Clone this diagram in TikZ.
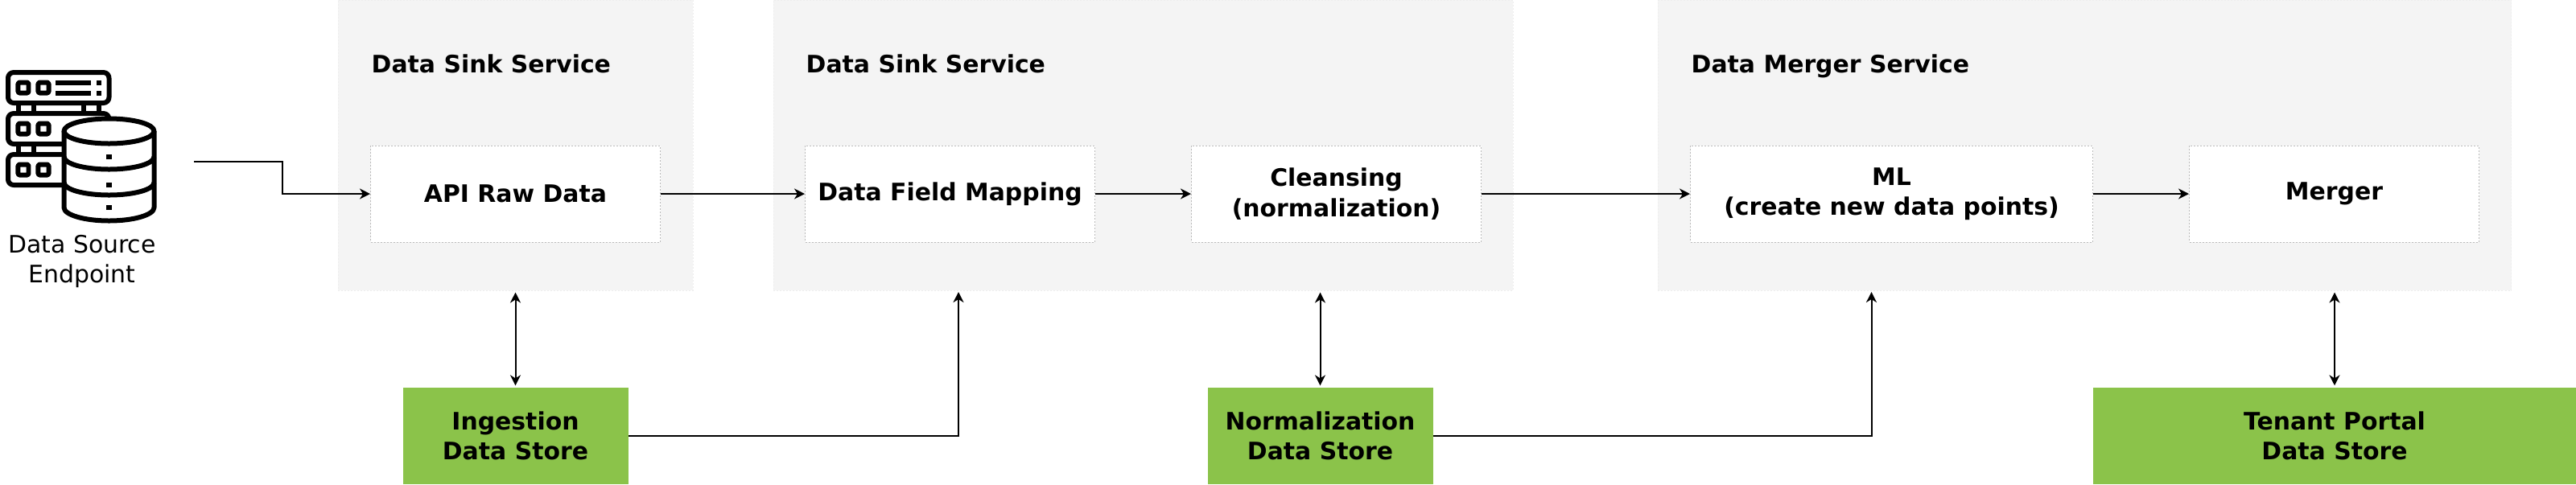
\documentclass[tikz,border=0pt]{standalone}
\usepackage{fontspec}
\setmainfont{DejaVu Sans}
\usepackage{xcolor}
\usetikzlibrary{arrows.meta, positioning, calc}
\definecolor{dfpanel}{HTML}{F4F4F4}
\definecolor{dfpanelline}{HTML}{EEEEEE}
\definecolor{dfline}{HTML}{BBBBBB}
\definecolor{dfgreen}{HTML}{8BC34A}

\begin{document}
\begin{tikzpicture}[
  lbl/.style={font=\fontsize{8.5}{10.6}\selectfont, align=center, inner sep=0pt},
  panelcell/.style={draw=dfpanelline, line width=0.01cm, dash pattern=on 0.02cm off 0.02cm, fill=dfpanel, minimum height=3.61cm},
  stepcell/.style={lbl, font=\fontsize{8.5}{10.6}\selectfont\bfseries, draw=dfline, line width=0.01cm, dash pattern=on 0.02cm off 0.02cm, fill=white, minimum height=1.2cm},
  storecell/.style={lbl, font=\fontsize{8.5}{10.6}\selectfont\bfseries, fill=dfgreen, minimum height=1.2cm},
  titlecell/.style={lbl, font=\fontsize{8.5}{10.6}\selectfont\bfseries, anchor=west, text height=0.22cm, text depth=0.06cm},
  flow/.style={line width=0.02cm, -{Stealth[length=0.13cm, width=0.13cm, inset=0.04cm]}},
  both/.style={flow, {Stealth[length=0.13cm, width=0.13cm, inset=0.04cm]}-{Stealth[length=0.13cm, width=0.13cm, inset=0.04cm]}, shorten <=0.02cm, shorten >=0.02cm},
  icon/.style={line width=0.06cm, line join=round},
]
  \useasboundingbox (0,0) rectangle (32.01,-6.02);

  % Panels
  \node[panelcell, minimum width=4.41cm] (sinkA) at (6.405,-1.805) {};
  \node[panelcell, minimum width=9.19cm] (sinkB) at (14.205,-1.805) {};
  \node[panelcell, minimum width=10.605cm] (merge) at (25.905,-1.805) {};

  % Titles
  \node[titlecell] (sinkAtitle) at (4.61,-0.825) {Data Sink Service};
  \node[titlecell] (sinkBtitle) at (10.01,-0.825) {Data Sink Service};
  \node[titlecell] (mergetitle) at (21.01,-0.825) {Data Merger Service};

  % Steps
  \node[stepcell, minimum width=3.6cm] (raw) at (6.405,-2.41) {API Raw Data};
  \node[stepcell, minimum width=3.6cm] (mapping) at (11.805,-2.41) {Data Field Mapping};
  \node[stepcell, minimum width=3.6cm] (cleansing) at (16.605,-2.41) {Cleansing\\(normalization)};
  \node[stepcell, minimum width=5cm] (ml) at (23.505,-2.41) {ML\\(create new data points)};
  \node[stepcell, minimum width=3.6cm] (merger) at (29.005,-2.41) {Merger};

  % Stores
  \node[storecell, minimum width=2.8cm] (ingest) at (6.405,-5.42) {Ingestion\\Data Store};
  \node[storecell, minimum width=2.8cm] (norm) at (16.405,-5.42) {Normalization\\Data Store};
  \node[storecell, minimum width=6cm] (tenant) at (29.01,-5.42) {Tenant Portal\\Data Store};

  % Source icon, servers
  \foreach \y in {1.09,1.60,2.11} {
    \draw[icon, rounded corners=0.07cm] (0.10,-\y+0.19) rectangle (1.355,-\y-0.19);
    \foreach \x in {0.29,0.54}
      \draw[icon, rounded corners=0.015cm, fill=white] (\x-0.065,-\y+0.065) rectangle (\x+0.065,-\y-0.065);
  }
  \foreach \x in {0.23,0.42,1.04,1.23}
    \draw[icon] (\x,-1.30) -- (\x,-1.40);
  \foreach \x in {0.23,0.42}
    \draw[icon] (\x,-1.81) -- (\x,-1.91);
  \foreach \y in {1.03,1.16} {
    \draw[line width=0.06cm] (0.69,-\y) -- (1.13,-\y);
    \fill (1.20,-\y+0.03) rectangle (1.26,-\y-0.03);
  }

  % Source icon, database
  \draw[icon, fill=white] (0.795,-1.63) -- (0.795,-2.58) arc[start angle=180, end angle=360, x radius=0.56, y radius=0.165] -- (1.915,-1.63);
  \draw[icon, fill=white] (1.355,-1.63) ellipse[x radius=0.56, y radius=0.155];
  \foreach \y in {1.95,2.27}
    \draw[icon] (0.795,-\y) arc[start angle=180, end angle=360, x radius=0.56, y radius=0.155];
  \foreach \y in {1.95,2.30,2.58}
    \fill (1.32,-\y+0.03) rectangle (1.385,-\y-0.03);
  \node[lbl] (source) at (1.02,-3.25) {Data Source\\Endpoint};
  \coordinate (sourceout) at (2.41,-2.01);

  % Flow
  \draw[flow] (sourceout) -- (3.51,-2.01) -- (3.51,-2.41) -- (raw.west);
  \draw[flow] (raw) -- (mapping);
  \draw[flow] (mapping) -- (cleansing);
  \draw[flow] (cleansing) -- (ml);
  \draw[flow] (ml) -- (merger);

  % Store links
  \coordinate (mappingin) at (11.91,-3.63);
  \coordinate (mlin) at (23.255,-3.63);
  \draw[flow] (ingest.east) -| (mappingin);
  \draw[flow] (norm.east) -| (mlin);
  \draw[both] (ingest.north) -- (ingest.north |- sinkA.south);
  \draw[both] (norm.north) -- (norm.north |- sinkB.south);
  \draw[both] (tenant.north) -- (tenant.north |- merge.south);
\end{tikzpicture}
\end{document}
